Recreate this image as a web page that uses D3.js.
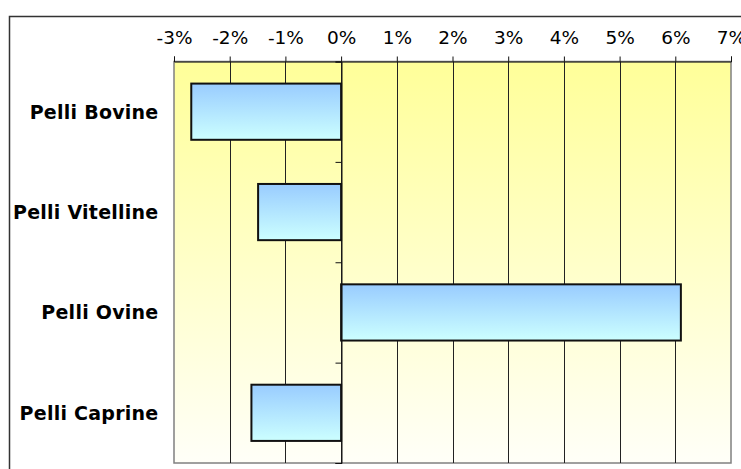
<!DOCTYPE html>
<html>
<head>
<meta charset="utf-8">
<script src="https://cdn.jsdelivr.net/npm/d3@7"></script>
<style>
  body { margin: 0; background: #fff; }
  svg { display: block; }
</style>
</head>
<body>
<svg id="chart" width="741" height="469"></svg>
<script>
// data
const categories = ['Pelli Bovine', 'Pelli Vitelline', 'Pelli Ovine', 'Pelli Caprine']
const values = [-2.69, -1.49, 6.10, -1.61]
const tickValues = [-3, -2, -1, 0, 1, 2, 3, 4, 5, 6, 7]

const svg = d3.select('#chart')

const plotLeft = 174, plotRight = 731, plotTop = 61.5, plotBottom = 463

let x = d3.scaleLinear()
  .domain([-3, 7])
  .range([plotLeft, plotRight])

let y = d3.scaleBand()
  .domain(categories)
  .range([plotTop, plotBottom])
  .paddingInner(0.44)
  .paddingOuter(0.22)

// boundaries between categories, for the small ticks on the 0 line
let yEdge = d3.scaleLinear()
  .domain([0, categories.length])
  .range([plotTop, plotBottom])

let defs = svg.append('defs')

let bg = defs.append('linearGradient')
  .attr('id', 'bg')
  .attr('x1', 0).attr('y1', 0).attr('x2', 0).attr('y2', 1)
bg.append('stop').attr('offset', '0%').attr('stop-color', '#ffff99')
bg.append('stop').attr('offset', '100%').attr('stop-color', '#fffff8')

let barFill = defs.append('linearGradient')
  .attr('id', 'barFill')
  .attr('x1', 0).attr('y1', 0).attr('x2', 0).attr('y2', 1)
barFill.append('stop').attr('offset', '0%').attr('stop-color', '#99ccff')
barFill.append('stop').attr('offset', '100%').attr('stop-color', '#ccffff')

// outer chart frame (runs off the right and bottom edges)
svg.append('rect')
  .attr('x', 9.5).attr('y', 16.5)
  .attr('width', 800).attr('height', 500)
  .attr('fill', '#fff')
  .attr('stroke', '#333')
  .attr('stroke-width', 1.5)

// plot area
svg.append('rect')
  .attr('x', plotLeft).attr('y', plotTop)
  .attr('width', plotRight - plotLeft).attr('height', plotBottom - plotTop)
  .attr('fill', 'url(#bg)')
  .attr('stroke', '#808080')
  .attr('stroke-width', 1.5)

// vertical gridlines
svg.append('g')
  .selectAll('line')
  .data(tickValues.filter(d => d > -3 && d < 7))
  .join('line')
  .attr('x1', d => Math.round(x(d)) + 0.5)
  .attr('x2', d => Math.round(x(d)) + 0.5)
  .attr('y1', plotTop)
  .attr('y2', plotBottom)
  .attr('stroke', '#222')
  .attr('stroke-width', 1)

// bars
svg.append('g')
  .selectAll('rect')
  .data(categories)
  .join('rect')
  .attr('x', (d, i) => x(Math.min(0, values[i])))
  .attr('y', d => y(d))
  .attr('width', (d, i) => Math.abs(x(values[i]) - x(0)))
  .attr('height', y.bandwidth())
  .attr('fill', 'url(#barFill)')
  .attr('stroke', '#111')
  .attr('stroke-width', 2)

// top axis
let xAxis = svg.append('g')
  .attr('transform', `translate(0,${plotTop})`)
  .call(d3.axisTop(x)
    .tickValues(tickValues)
    .tickSize(5)
    .tickPadding(13)
    .tickFormat(d => d + '%'))
xAxis.select('.domain').attr('stroke', '#111')
xAxis.selectAll('.tick line').attr('stroke', '#111')
xAxis.selectAll('text')
  .attr('font-family', 'DejaVu Sans, Verdana, sans-serif')
  .attr('font-size', '18.5px')
  .attr('fill', '#000')

// category ticks on the zero line
let yAxis = svg.append('g')
  .attr('transform', `translate(${Math.round(x(0)) + 0.5},0)`)
  .call(d3.axisLeft(yEdge)
    .tickValues(d3.range(categories.length + 1))
    .tickSize(6)
    .tickFormat(''))
yAxis.select('.domain').attr('stroke', '#111')
yAxis.selectAll('.tick line').attr('stroke', '#111')

// category labels
svg.append('g')
  .selectAll('text')
  .data(categories)
  .join('text')
  .attr('x', 158.5)
  .attr('y', d => y(d) + y.bandwidth() / 2)
  .attr('dy', '0.36em')
  .attr('text-anchor', 'end')
  .attr('font-family', 'DejaVu Sans, Verdana, sans-serif')
  .attr('font-weight', 'bold')
  .attr('font-size', '19px')
  .attr('letter-spacing', '0.25px')
  .attr('fill', '#000')
  .text(d => d)
</script>
</body>
</html>
